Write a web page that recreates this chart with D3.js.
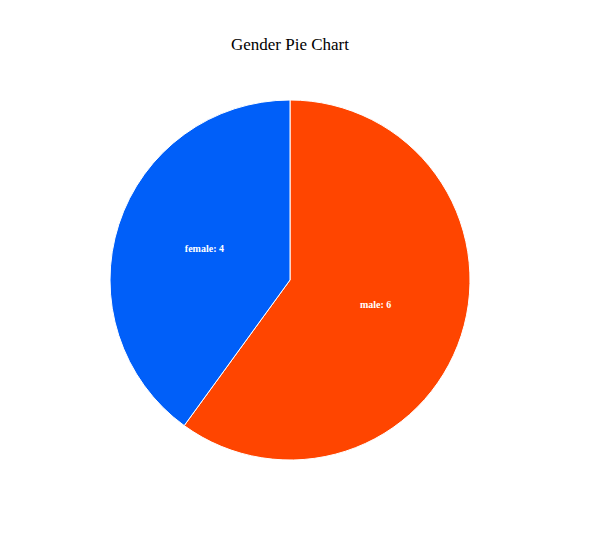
<!DOCTYPE html>
<html>
<head>
<meta charset="utf-8">
<script src="https://cdn.jsdelivr.net/npm/d3@7"></script>
<style>
  html, body { margin: 0; padding: 0; background: #fff; }
</style>
</head>
<body>
<div id="chart"></div>
<script>
const categories = ["male", "female"];
const values = [6, 4];
const colors = ["#ff4500", "#005ff9"];

const width = 600, height = 560;
const cx = 290, cy = 280, radius = 180;

const svg = d3.select("#chart").append("svg")
  .attr("width", width).attr("height", height);

svg.append("text")
  .attr("x", cx).attr("y", 50)
  .attr("text-anchor", "middle")
  .style("font-family", "'Liberation Serif', 'Times New Roman', serif")
  .style("font-size", "17px")
  .attr("fill", "#000")
  .text("Gender Pie Chart");

const data = categories.map((c, i) => ({ label: c, value: values[i], color: colors[i] }));

const pie = d3.pie().value(d => d.value).sort(null);
const arc = d3.arc().innerRadius(0).outerRadius(radius);

const g = svg.append("g").attr("transform", `translate(${cx},${cy})`);

const arcs = g.selectAll("g.slice").data(pie(data)).enter().append("g").attr("class", "slice");

arcs.append("path")
  .attr("d", arc)
  .attr("fill", d => d.data.color)
  .attr("stroke", "#fff")
  .attr("stroke-width", 1);

arcs.append("text")
  .attr("transform", d => `translate(${arc.centroid(d)})`)
  .attr("text-anchor", "middle")
  .style("font-family", "'Liberation Serif', 'Times New Roman', serif")
  .style("font-size", "10px")
  .style("font-weight", "bold")
  .attr("fill", "#fff")
  .text(d => `${d.data.label}: ${d.data.value}`);
</script>
</body>
</html>
